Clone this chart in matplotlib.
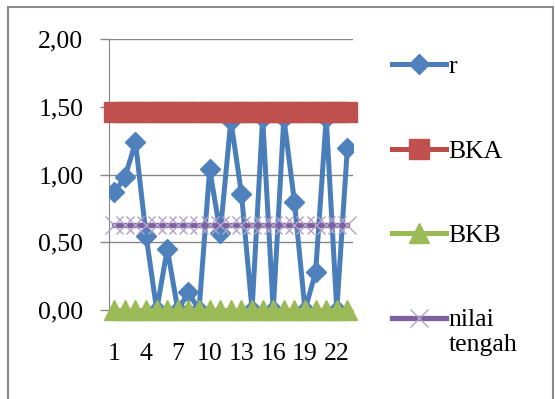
import matplotlib
matplotlib.use("Agg")
import matplotlib.pyplot as plt
from matplotlib.patches import Rectangle

x = list(range(1, 24))
r = [0.87, 0.98, 1.24, 0.55, 0.00, 0.45, 0.00, 0.13, 0.00, 1.04, 0.57, 1.40,
     0.86, 0.00, 1.42, 0.00, 1.42, 0.80, 0.00, 0.28, 1.42, 0.00, 1.20]
bka = [1.46] * 23
bkb = [0.00] * 23
tengah = [0.63] * 23
yticks = [0.0, 0.5, 1.0, 1.5, 2.0]
ytick_labels = ["0,00", "0,50", "1,00", "1,50", "2,00"]
xticks = [1, 4, 7, 10, 13, 16, 19, 22]
labels = ["r", "BKA", "BKB", "nilai\ntengah"]

plt.rcParams['font.family'] = ['Liberation Serif', 'DejaVu Serif']

fig = plt.figure(figsize=(5.55, 3.99), dpi=100)
ax = fig.add_axes([109/555, 1 - 310/399, (352.7-109)/555, (310-39.3)/399])

ax.set_axisbelow(True)
ax.grid(axis='y', color='#868686', linewidth=1.0)

l1, = ax.plot(x, r, color='#4A7EBB', linewidth=3.6, marker='D', markersize=10,
              markerfacecolor='#4F81BD', markeredgecolor='#4F81BD', zorder=3,
              label=labels[0])
l2, = ax.plot(x, bka, color='#BE4B48', linewidth=3.6, marker='s', markersize=14.5,
              markerfacecolor='#C0504D', markeredgecolor='#C0504D', zorder=4,
              clip_on=False, label=labels[1])
l3, = ax.plot(x, bkb, color='#98B954', linewidth=3.6, marker='^', markersize=15,
              markerfacecolor='#9BBB59', markeredgecolor='#9BBB59', zorder=5,
              clip_on=False, label=labels[2])
l4, = ax.plot(x, tengah, color='#7D60A0', linewidth=3.8, marker='x', markersize=13.5,
              markeredgecolor='#B3A2C7', markeredgewidth=1.0, zorder=6,
              clip_on=False, label=labels[3])

ax.set_xlim(0.5, 23.5)
ax.set_ylim(0, 2.0)
ax.set_yticks(yticks)
ax.set_yticklabels(ytick_labels)
ax.set_xticks(xticks)
ax.set_xticklabels([str(v) for v in xticks])
ax.tick_params(axis='y', length=6.5, width=1, color='#868686', pad=12, labelsize=18.5)
ax.tick_params(axis='x', length=0, pad=24, labelsize=18.5)

for s in ['top', 'right']:
    ax.spines[s].set_visible(False)
ax.spines['left'].set_color('#868686')
ax.spines['bottom'].set_color('#98B954')

leg = fig.legend(handles=[l1, l2, l3, l4], loc='upper left',
                 bbox_to_anchor=(392/555, 1 - 55/399), frameon=False,
                 fontsize=18.5, handlelength=2.1, handletextpad=0.1,
                 labelspacing=2.4, borderpad=0, borderaxespad=0)
# align the handle of the two-line label with its first line
try:
    rows = leg._legend_handle_box.get_children()[0].get_children()
    rows[3].align = 'top'
except Exception:
    pass

fig.patches.append(Rectangle((8/555, -0.1), (553-8)/555, 1.1 - 7/399,
                             transform=fig.transFigure, fill=False,
                             edgecolor='#898989', linewidth=1.5))

fig.savefig("out.png", dpi=100)
